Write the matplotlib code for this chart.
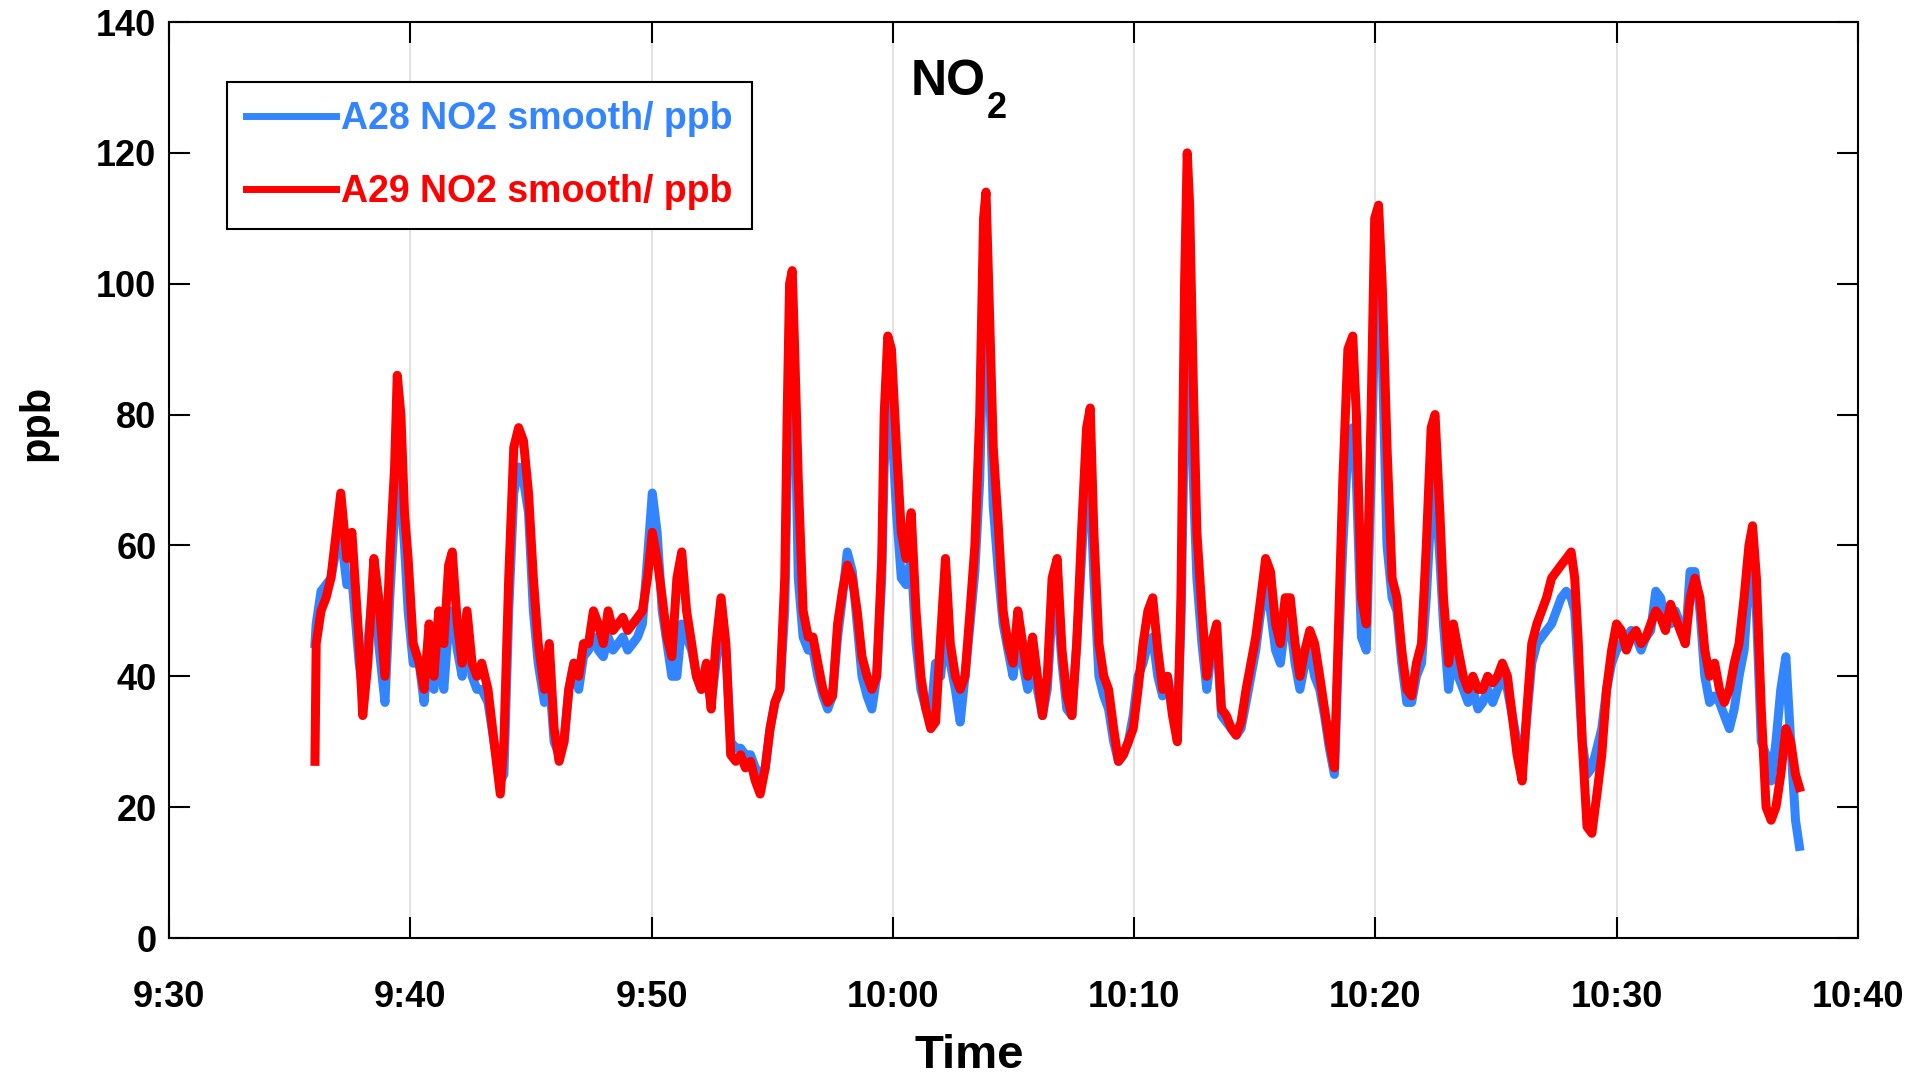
import matplotlib
matplotlib.use("Agg")
import matplotlib.pyplot as plt

# time in minutes after 9:30
minutes = [
    6.05, 6.10, 6.30, 6.51, 6.71, 6.96, 7.12, 7.37, 7.58, 7.88, 8.03, 8.24, 8.49, 8.69, 8.95,
    9.15, 9.35, 9.46, 9.61, 9.76, 9.91, 10.12, 10.37, 10.57, 10.78, 10.98, 11.18, 11.39, 11.59,
    11.74, 11.95, 12.15, 12.35, 12.56, 12.76, 12.96, 13.22, 13.47, 13.73, 13.88, 14.08, 14.29,
    14.49, 14.69, 14.90, 15.10, 15.30, 15.56, 15.76, 15.96, 16.17, 16.37, 16.57, 16.78, 16.98,
    17.18, 17.39, 17.59, 17.79, 18.00, 18.20, 18.40, 18.61, 18.81, 19.01, 19.22, 19.42, 19.62,
    19.83, 20.03, 20.23, 20.44, 20.64, 20.84, 21.05, 21.25, 21.45, 21.66, 21.86, 22.06, 22.27,
    22.47, 22.67, 22.88, 23.08, 23.28, 23.49, 23.69, 23.89, 24.10, 24.30, 24.50, 24.71, 24.91,
    25.11, 25.32, 25.52, 25.62, 25.72, 25.83, 25.93, 26.08, 26.28, 26.49, 26.69, 26.89, 27.10,
    27.30, 27.50, 27.71, 27.91, 28.11, 28.32, 28.52, 28.72, 28.93, 29.13, 29.33, 29.54, 29.64,
    29.79, 29.94, 30.15, 30.35, 30.55, 30.76, 30.96, 31.16, 31.37, 31.57, 31.77, 31.98, 32.18,
    32.38, 32.59, 32.79, 32.99, 33.20, 33.40, 33.60, 33.76, 33.86, 34.01, 34.16, 34.37, 34.57,
    34.77, 34.98, 35.18, 35.38, 35.59, 35.79, 35.99, 36.20, 36.40, 36.60, 36.81, 37.01, 37.21,
    37.42, 37.62, 37.82, 38.03, 38.18, 38.33, 38.54, 38.74, 38.94, 39.15, 39.35, 39.55, 39.76,
    39.96, 40.16, 40.37, 40.57, 40.77, 40.98, 41.18, 41.38, 41.59, 41.79, 41.94, 42.09, 42.20,
    42.30, 42.45, 42.60, 42.81, 43.01, 43.21, 43.42, 43.62, 43.82, 44.03, 44.23, 44.43, 44.64,
    44.84, 45.04, 45.25, 45.45, 45.65, 45.86, 46.06, 46.26, 46.47, 46.67, 46.87, 47.08, 47.28,
    47.48, 47.69, 47.89, 48.09, 48.30, 48.45, 48.65, 48.86, 49.06, 49.21, 49.42, 49.62, 49.82,
    49.97, 50.13, 50.28, 50.48, 50.69, 50.89, 51.09, 51.30, 51.50, 51.70, 51.91, 52.11, 52.31,
    52.47, 52.67, 52.82, 53.03, 53.23, 53.43, 53.64, 53.84, 54.04, 54.25, 54.45, 54.65, 54.86,
    55.06, 55.26, 55.47, 55.67, 55.87, 56.08, 56.28, 56.48, 56.69, 56.89, 57.09, 57.30, 57.50,
    57.70, 57.91, 58.11, 58.26, 58.41, 58.57, 58.77, 58.97, 59.18, 59.38, 59.58, 59.79, 59.99,
    60.19, 60.40, 60.60, 60.80, 61.01, 61.21, 61.41, 61.62, 61.82, 62.02, 62.23, 62.43, 62.63,
    62.84, 63.04, 63.24, 63.45, 63.65, 63.85, 64.06, 64.26, 64.46, 64.67, 64.87, 65.07, 65.28,
    65.48, 65.63, 65.79, 65.99, 66.19, 66.40, 66.60, 66.80, 67.01, 67.21, 67.41, 67.57,
]

a29_no2 = [
    27, 45, 50, 52, 55, 63, 68, 58, 62, 45, 34, 42, 58, 52, 40,
    58, 72, 86, 80, 65, 58, 45, 42, 38, 48, 40, 50, 45, 57,
    59, 48, 42, 50, 42, 40, 42, 38, 30, 22, 30, 55, 75,
    78, 76, 68, 55, 45, 38, 45, 32, 27, 30, 38, 42, 40,
    45, 45, 50, 48, 45, 50, 47, 48, 49, 47, 48, 49, 50,
    55, 62, 58, 52, 46, 43, 55, 59, 50, 45, 40, 38, 42,
    35, 45, 52, 45, 28, 27, 28, 26, 27, 24, 22, 26, 32,
    36, 38, 55, 80, 100, 102, 90, 70, 50, 46, 46, 42, 38,
    36, 37, 48, 53, 57, 55, 50, 43, 40, 38, 40, 58, 80,
    92, 90, 75, 62, 58, 65, 50, 40, 35, 32, 33, 46, 58,
    45, 40, 38, 40, 50, 60, 80, 110, 114, 95, 75, 63, 50,
    45, 42, 50, 45, 40, 46, 40, 34, 40, 55, 58, 44, 37,
    34, 45, 62, 78, 81, 62, 45, 40, 38, 32, 27, 28, 30,
    32, 38, 45, 50, 52, 44, 38, 40, 34, 30, 52, 100, 120,
    112, 85, 62, 50, 40, 45, 48, 35, 34, 32, 31, 33, 38,
    42, 46, 52, 58, 56, 48, 45, 52, 52, 45, 40, 44, 47,
    45, 40, 35, 30, 26, 45, 70, 90, 92, 80, 52, 48, 80,
    110, 112, 100, 75, 55, 52, 44, 38, 37, 42, 45, 60, 78,
    80, 65, 52, 42, 48, 44, 40, 38, 40, 38, 38, 40, 39,
    40, 42, 40, 34, 28, 24, 35, 45, 48, 50, 52, 55, 56,
    57, 58, 59, 55, 45, 30, 17, 16, 22, 28, 38, 44, 48,
    47, 44, 46, 47, 45, 46, 48, 50, 49, 47, 51, 49, 47,
    45, 52, 55, 52, 44, 40, 42, 38, 36, 38, 42, 45, 52,
    60, 63, 55, 35, 20, 18, 20, 25, 32, 30, 25, 23,
]

a28_no2 = [
    45, 48, 53, 54, 55, 60, 62, 54, 55, 42, 38, 45, 55, 45, 36,
    52, 65, 72, 68, 60, 50, 42, 42, 36, 45, 38, 45, 38, 48,
    50, 44, 40, 48, 40, 38, 38, 36, 30, 24, 25, 50, 68,
    72, 70, 65, 50, 42, 36, 40, 30, 28, 30, 38, 42, 38,
    43, 44, 46, 44, 43, 46, 44, 45, 46, 44, 45, 46, 48,
    58, 68, 62, 50, 45, 40, 40, 48, 46, 44, 40, 38, 40,
    36, 42, 48, 44, 30, 29, 29, 28, 28, 26, 25, 26, 32,
    36, 38, 50, 70, 88, 92, 85, 55, 46, 44, 44, 40, 37,
    35, 37, 46, 52, 59, 56, 48, 40, 37, 35, 40, 55, 72,
    82, 80, 65, 55, 54, 58, 45, 38, 35, 34, 42, 40, 48,
    42, 38, 33, 40, 48, 56, 70, 95, 106, 85, 66, 56, 48,
    44, 40, 46, 42, 38, 42, 38, 34, 38, 50, 52, 42, 35,
    34, 45, 58, 72, 70, 55, 40, 37, 35, 30, 27, 28, 30,
    34, 40, 42, 45, 46, 40, 37, 40, 36, 32, 48, 80, 95,
    90, 70, 55, 45, 38, 44, 46, 34, 33, 32, 31, 32, 36,
    40, 44, 50, 54, 50, 44, 42, 48, 48, 42, 38, 42, 44,
    40, 38, 34, 29, 25, 42, 60, 75, 78, 70, 46, 44, 70,
    95, 100, 90, 60, 52, 50, 42, 36, 36, 40, 42, 52, 66,
    70, 58, 48, 38, 44, 40, 38, 36, 38, 35, 36, 38, 36,
    38, 40, 38, 34, 30, 26, 34, 42, 45, 46, 47, 48, 50,
    52, 53, 52, 50, 40, 30, 25, 26, 29, 32, 38, 42, 44,
    45, 46, 47, 46, 44, 46, 47, 53, 52, 48, 48, 50, 48,
    45, 56, 56, 50, 40, 36, 37, 36, 34, 32, 35, 40, 44,
    55, 58, 50, 30, 28, 24, 30, 38, 43, 30, 18, 14,
]

x_ticks = [0, 10, 20, 30, 40, 50, 60, 70]
x_tick_labels = ["9:30", "9:40", "9:50", "10:00", "10:10", "10:20", "10:30", "10:40"]
y_ticks = [0, 20, 40, 60, 80, 100, 120, 140]

BLUE = "#3385ff"
RED = "#ff0000"

plt.rcParams["font.family"] = ["Liberation Sans", "DejaVu Sans"]
plt.rcParams["font.weight"] = "bold"

fig = plt.figure(figsize=(19.23, 10.82), dpi=100)
ax = fig.add_axes([169 / 1923, (1082 - 938) / 1082, 1689 / 1923, 916 / 1082])

ax.plot(minutes, a28_no2, color=BLUE, lw=6.5, label="A28 NO2 smooth/ ppb", zorder=3)
ax.plot(minutes, a29_no2, color=RED, lw=6.5, label="A29 NO2 smooth/ ppb", zorder=4)

ax.set_xlim(0, 70)
ax.set_ylim(0, 140)
ax.set_xticks(x_ticks)
ax.set_xticklabels(x_tick_labels)
ax.set_yticks(y_ticks)
ax.tick_params(direction="in", length=15, width=1.5, labelsize=26,
               top=True, right=True)
ax.tick_params(axis="x", pad=30)
ax.tick_params(axis="y", pad=9)
for lab in ax.get_xticklabels() + ax.get_yticklabels():
    lab.set_fontweight("bold")
for sp in ax.spines.values():
    sp.set_linewidth(1.5)
ax.grid(axis="x", color="#dddddd", lw=1.2)
ax.set_axisbelow(True)

ax.set_xlabel("Time", fontsize=34, fontweight="bold")
ax.xaxis.set_label_coords(0.474, -0.129)
ax.xaxis.label.set_va("center")
ax.set_ylabel("ppb", fontsize=30, fontweight="bold")
ax.yaxis.set_label_coords(-0.078, 0.562)
ax.yaxis.label.set_va("center")

# title inside the axes, with a lowered subscript
ax.text(0.461, 0.935, "NO", transform=ax.transAxes,
        ha="center", va="center", fontsize=36, fontweight="bold")
ax.text(0.490, 0.906, "2", transform=ax.transAxes,
        ha="center", va="center", fontsize=26, fontweight="bold")

leg = ax.legend(loc="upper left", bbox_to_anchor=(0.0343, 0.9345), fontsize=27,
                frameon=True, fancybox=False, edgecolor="black", framealpha=1,
                handlelength=2.4, handletextpad=0.15, labelspacing=1.0,
                borderpad=0.5, borderaxespad=0)
leg.get_frame().set_linewidth(1.5)
for line in leg.get_lines():
    line.set_linewidth(5)
for txt, col in zip(leg.get_texts(), [BLUE, RED]):
    txt.set_color(col)
    txt.set_fontweight("bold")

fig.savefig("out.png", dpi=100)
